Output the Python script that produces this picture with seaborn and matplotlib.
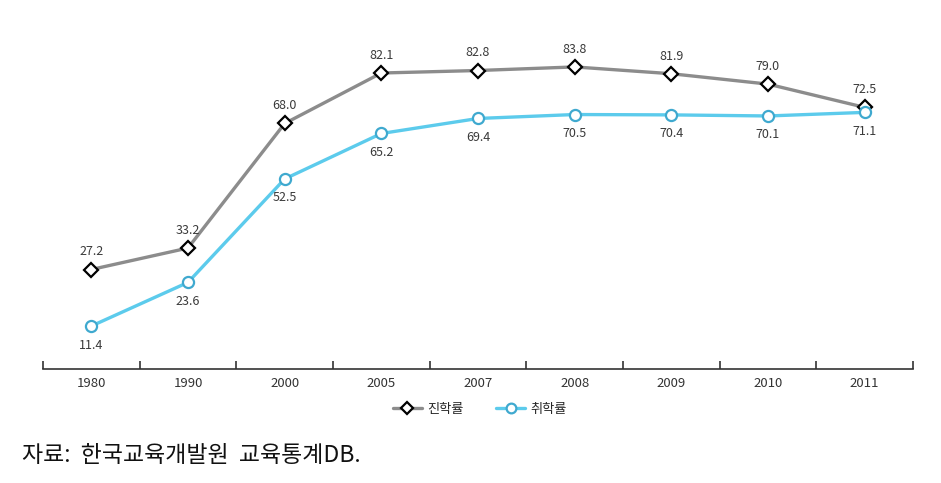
import matplotlib
matplotlib.use("Agg")
import matplotlib.pyplot as plt
from matplotlib.lines import Line2D
import seaborn as sns
import pandas as pd

years = ["1980", "1990", "2000", "2005", "2007", "2008", "2009", "2010", "2011"]
jinhak = [27.2, 33.2, 68.0, 82.1, 82.8, 83.8, 81.9, 79.0, 72.5]   # 진학률
chwihak = [11.4, 23.6, 52.5, 65.2, 69.4, 70.5, 70.4, 70.1, 71.1]  # 취학률

sns.set_theme(style="white")
plt.rcParams['font.family'] = ['Noto Sans CJK KR', 'DejaVu Sans']

gray = "#8c8c8c"
blue = "#5ccbec"

df = pd.DataFrame({"x": range(len(years)), "jinhak": jinhak, "chwihak": chwihak})

fig = plt.figure(figsize=(9.41, 4.83), dpi=100)
ax = fig.add_axes([43 / 941, 1 - 369 / 483, 870 / 941, 369 / 483])

sns.lineplot(data=df, x="x", y="jinhak", ax=ax, color=gray, lw=2.4,
             marker="D", markersize=7, markerfacecolor="white",
             markeredgecolor="black", markeredgewidth=1.6)
sns.lineplot(data=df, x="x", y="chwihak", ax=ax, color=blue, lw=2.4,
             marker="o", markersize=8, markerfacecolor="white",
             markeredgecolor="#3fa9cf", markeredgewidth=1.6)

# 값 라벨
for i, v in enumerate(jinhak):
    ax.annotate(f"{v:.1f}", (i, v), xytext=(0, 8), textcoords="offset points",
                ha="center", va="bottom", fontsize=9, color="#3a3a3a")
for i, v in enumerate(chwihak):
    ax.annotate(f"{v:.1f}", (i, v), xytext=(0, -9), textcoords="offset points",
                ha="center", va="top", fontsize=9, color="#3a3a3a")

ax.set_xlim(-0.5, len(years) - 0.5)
ax.set_ylim(-0.6, 102.5)
ax.set_xlabel("")
ax.set_ylabel("")
ax.set_yticks([])
ax.set_xticks(range(len(years)))
ax.set_xticklabels(years, fontsize=9.5, color="#333333")
ax.set_xticks([i - 0.5 for i in range(len(years) + 1)], minor=True)
ax.tick_params(axis="x", which="major", length=0, pad=6)
ax.tick_params(axis="x", which="minor", direction="in", length=6, width=1.2,
               color="#333333", bottom=True)
for s in ["top", "left", "right"]:
    ax.spines[s].set_visible(False)
ax.spines["bottom"].set_color("#333333")
ax.spines["bottom"].set_linewidth(1.2)

handles = [
    Line2D([], [], color=gray, lw=2.4, marker="D", markersize=6,
           markerfacecolor="white", markeredgecolor="black", markeredgewidth=1.6),
    Line2D([], [], color=blue, lw=2.4, marker="o", markersize=7,
           markerfacecolor="white", markeredgecolor="#3fa9cf", markeredgewidth=1.6),
]
fig.legend(handles, ["진학률", "취학률"], loc="center", bbox_to_anchor=(0.51, 1 - 409 / 483),
           ncol=2, frameon=False, fontsize=9.5, handlelength=2.2, columnspacing=2.5,
           handletextpad=0.4)

fig.text(22 / 941, 1 - 456 / 483, "자료:  한국교육개발원  교육통계DB.", fontsize=16.5,
         va="center", ha="left", color="#111111")

fig.savefig("out.png", dpi=100)
